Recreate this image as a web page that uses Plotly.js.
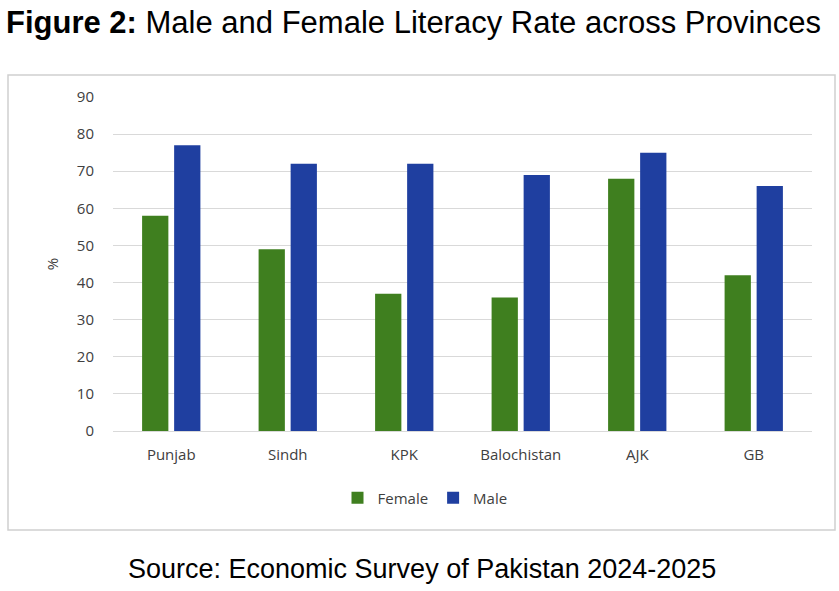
<!DOCTYPE html>
<html>
<head>
<meta charset="utf-8">
<script src="https://cdn.plot.ly/plotly-3.0.1.min.js"></script>
<style>
  body { margin: 0; background: #fff; }
  #myDiv { width: 839px; height: 591px; }
</style>
</head>
<body>
<div id="myDiv"></div>
<script>
var provinces = ['Punjab', 'Sindh', 'KPK', 'Balochistan', 'AJK', 'GB']
var female = [58, 49, 37, 36, 68, 42]
var male = [77, 72, 72, 69, 75, 66]

var W = 839, H = 591
// plot area in pixels
var L = 113, R = 812, T = 97, B = 431

var tickFont = { family: 'Open Sans, DejaVu Sans, sans-serif', size: 15, color: '#404040' }

var trace1 = {
  x: provinces,
  y: female,
  name: 'Female',
  type: 'bar',
  marker: { color: '#3f7f1f' },
  hoverinfo: 'x+y+name'
}

var trace2 = {
  x: provinces,
  y: male,
  name: 'Male',
  type: 'bar',
  marker: { color: '#1f3fa0' },
  hoverinfo: 'x+y+name'
}

// convert pixel x/y to paper coords
function px(x) { return (x - L) / (R - L) }
function py(y) { return (B - y) / (B - T) }

var layout = {
  width: W,
  height: H,
  margin: { l: L, r: W - R, t: T, b: H - B },
  paper_bgcolor: '#fff',
  plot_bgcolor: '#fff',
  barmode: 'group',
  bargap: 0.45,
  bargroupgap: 0.18,
  showlegend: true,
  legend: {
    orientation: 'h',
    x: px(425), xanchor: 'center',
    y: py(498), yanchor: 'middle',
    font: tickFont,
    itemwidth: 30,
    traceorder: 'normal'
  },
  xaxis: {
    tickfont: tickFont,
    showgrid: false,
    showline: true,
    linecolor: '#d9d9d9',
    linewidth: 1,
    ticks: '',
    ticklabelstandoff: 10
  },
  yaxis: {
    range: [0, 90],
    dtick: 10,
    tickfont: tickFont,
    gridcolor: '#d9d9d9',
    gridwidth: 1,
    zeroline: false,
    showline: false,
    ticks: '',
    ticklabelstandoff: 18,
    title: { text: '%', font: tickFont, standoff: 14 }
  },
  shapes: [
    {
      type: 'rect', xref: 'paper', yref: 'paper',
      x0: px(8), x1: px(835), y0: py(530), y1: py(75),
      line: { color: '#d0d0d0', width: 1.5 },
      layer: 'below'
    }
  ],
  annotations: [
    {
      xref: 'paper', yref: 'paper',
      x: px(4), y: py(23), xanchor: 'left', yanchor: 'middle',
      text: '<b>Figure 2:</b> Male and Female Literacy Rate across Provinces',
      showarrow: false,
      font: { family: 'Liberation Sans, Arial, sans-serif', size: 31, color: '#000' }
    },
    {
      xref: 'paper', yref: 'paper',
      x: px(422), y: py(569), xanchor: 'center', yanchor: 'middle',
      text: 'Source: Economic Survey of Pakistan 2024-2025',
      showarrow: false,
      font: { family: 'Liberation Sans, Arial, sans-serif', size: 27, color: '#000' }
    }
  ]
}

Plotly.newPlot('myDiv', [trace1, trace2], layout, { displayModeBar: false, staticPlot: true })
</script>
</body>
</html>
